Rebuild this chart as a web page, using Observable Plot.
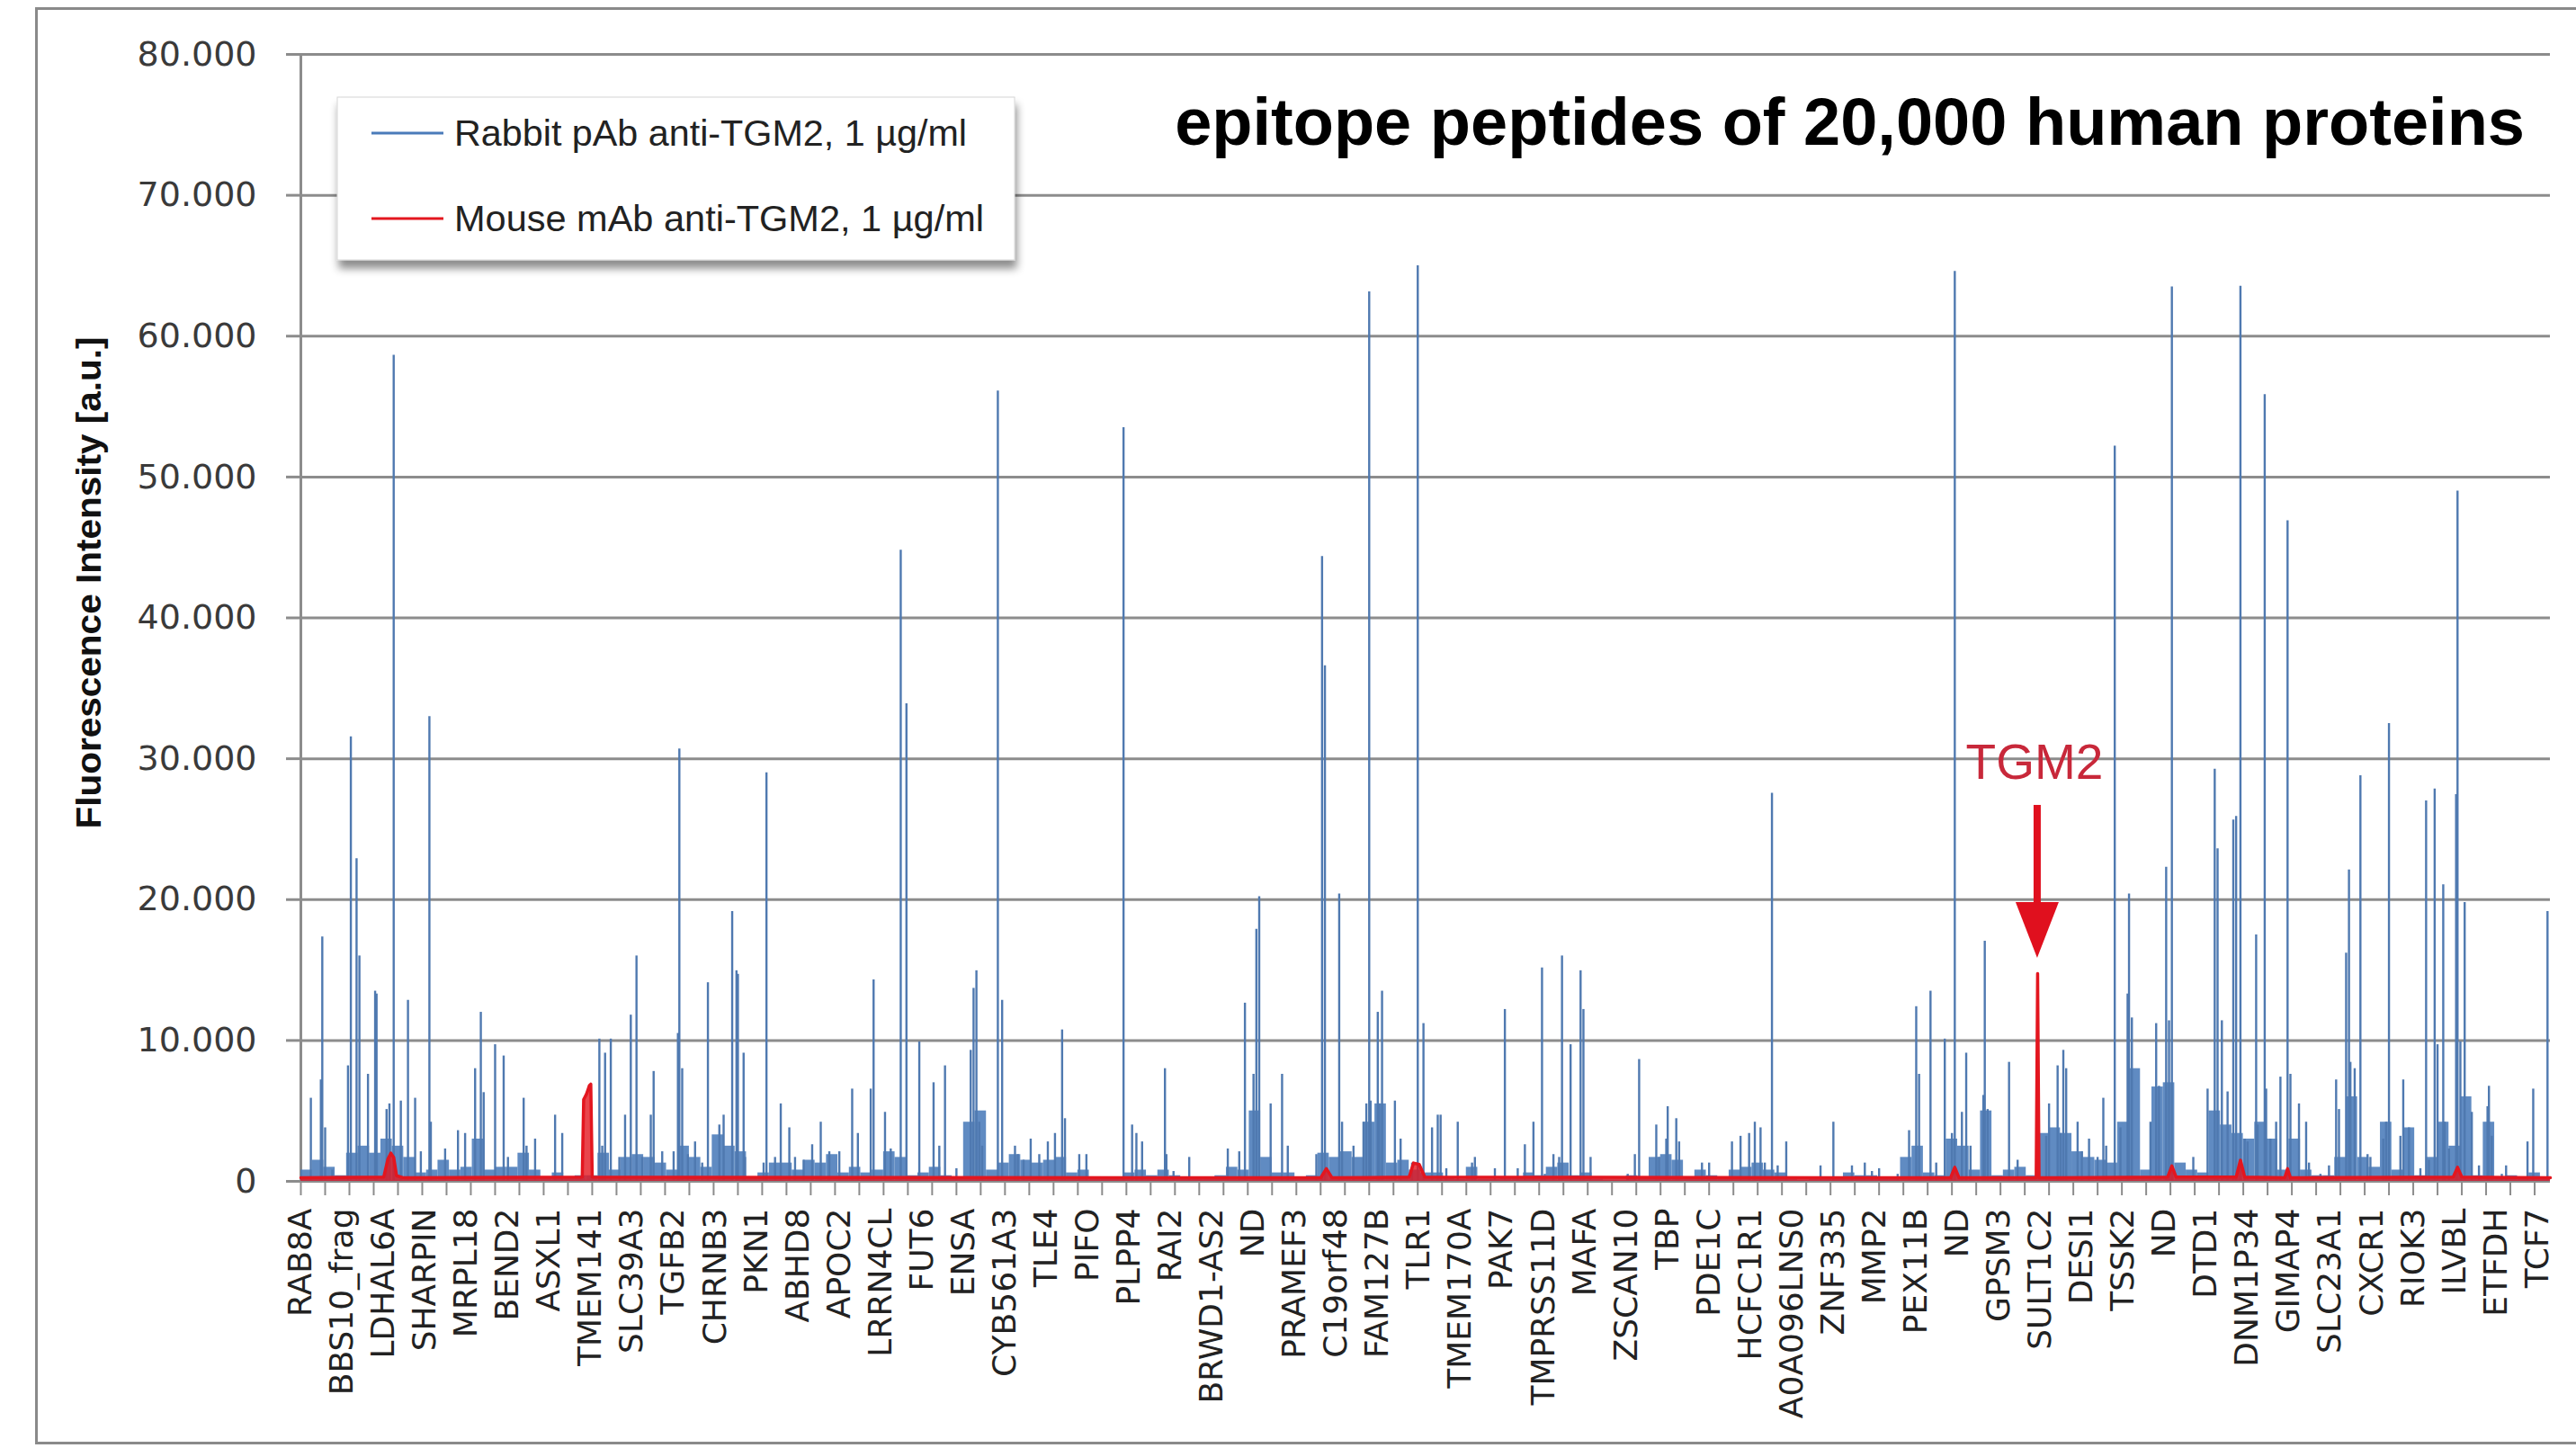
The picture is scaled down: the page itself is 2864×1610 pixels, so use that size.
<!DOCTYPE html>
<html><head><meta charset="utf-8">
<script src="https://cdn.jsdelivr.net/npm/d3@7"></script>
<script src="https://cdn.jsdelivr.net/npm/@observablehq/plot@0.6"></script>
<style>
html,body{margin:0;padding:0;background:#fff;}
#wrap{position:relative;width:2864px;height:1610px;overflow:hidden;background:#fff;}
#frame{position:absolute;left:39px;top:8px;width:2860px;height:1598px;border:3px solid #8a8a8a;box-sizing:border-box;}
#chart{position:absolute;left:0;top:0;}
#overlay{position:absolute;left:0;top:0;}
</style></head>
<body><div id="wrap"><div id="frame"></div><div id="chart"></div></div>
<script>
// ---------- data ----------
const titleText = "epitope peptides of 20,000 human proteins";
const yTitle = "Fluorescence Intensity [a.u.]";
const seriesNames = ["Rabbit pAb anti-TGM2, 1 µg/ml", "Mouse mAb anti-TGM2, 1 µg/ml"];
const xLabels = ["RAB8A","BBS10_frag","LDHAL6A","SHARPIN","MRPL18","BEND2","ASXL1","TMEM141","SLC39A3","TGFB2","CHRNB3","PKN1","ABHD8","APOC2","LRRN4CL","FUT6","ENSA","CYB561A3","TLE4","PIFO","PLPP4","RAI2","BRWD1-AS2","ND","PRAMEF3","C19orf48","FAM127B","TLR1","TMEM170A","PAK7","TMPRSS11D","MAFA","ZSCAN10","TBP","PDE1C","HCFC1R1","A0A096LNS0","ZNF335","MMP2","PEX11B","ND","GPSM3","SULT1C2","DESI1","TSSK2","ND","DTD1","DNM1P34","GIMAP4","SLC23A1","CXCR1","RIOK3","ILVBL","ETFDH","TCF7"];
const nPeptides = 1575;      // peptide positions on the category axis
const labelEvery = 29;       // one label every 29 peptides
const tickEvery = 17;        // one tick mark every 17 peptides
const yTicks = [0,10000,20000,30000,40000,50000,60000,70000,80000];

// Rabbit pAb: [peptide index, intensity] of the visible spikes
const rabbitPeaks = [[7,5900],[14,7200],[15,17350],[17,3800],[22,800],[33,8200],[35,31550],[39,22900],[41,16000],[47,7600],[52,13500],[53,13300],[60,5100],[62,5500],[65,58650],[70,5700],[75,12850],[80,5900],[84,2100],[90,33000],[91,4200],[101,2300],[110,3600],[115,3400],[122,8000],[126,12000],[128,6300],[136,9700],[142,8900],[145,1700],[156,5900],[158,2500],[164,3000],[178,4700],[183,3400],[209,10100],[211,2500],[213,9100],[217,10100],[223,1700],[227,4700],[231,11800],[235,16000],[239,1700],[245,4700],[247,7800],[253,2100],[261,2100],[264,10500],[265,30700],[267,8000],
[271,1900],[276,2800],[281,1300],[285,14100],[293,4000],[296,4700],[302,19150],[305,14950],[306,14700],[310,9100],[311,1700],[324,1300],[326,29000],[332,1700],[336,5500],[342,3800],[346,1700],[352,1500],[358,2600],[364,4200],[370,2100],[377,2100],[386,6550],[390,3400],[399,6550],[401,14300],[409,4900],[413,2300],[420,44800],[424,33900],[433,9900],[443,7000],[447,2500],[451,8200],[459,900],[469,9300],[471,13700],[473,14950],[475,4200],[477,2500],[488,56100],[491,12850],[500,2500],[502,1900],[506,1500],[511,3000],[517,1900],[523,2800],[528,3400],[533,10750],
[535,4450],[545,1900],[550,1900],[576,53500],[582,4000],[585,3400],[589,2800],[605,8000],[606,1900],[611,700],[622,1700],[649,2300],[657,2100],[661,12650],[667,7600],[669,17900],[671,20200],[679,5500],[687,7600],[691,2500],[711,1900],[715,44350],[717,36600],[727,20400],[729,4200],[737,2500],[744,4200],[746,5500],[748,63150],[749,5700],[754,12000],[755,5500],[757,13500],[766,5700],[770,3000],[778,1300],[782,65000],[786,11200],[792,3800],[796,4700],
[798,4700],[802,900],[810,4200],[820,1300],[822,1700],[836,900],[843,12200],[852,900],[857,2600],[863,4200],[869,15150],[871,500],[877,1900],[881,1700],[883,16000],[889,9700],[896,14950],[898,12200],[903,1700],[929,500],[934,1900],[937,8650],[949,4000],[951,1700],[956,3000],[957,5300],[963,4450],[965,2800],[981,1300],[986,1300],[1002,2800],[1008,3200],[1014,3400],[1018,4200],[1022,3800],[1025,1300],[1030,27550],[1034,1100],[1040,2800],
[1064,1100],[1073,4200],[1086,1100],[1095,1300],[1100,700],[1105,900],[1118,500],[1126,3600],[1131,12400],[1133,7600],[1141,13500],[1145,1300],[1151,10100],[1156,3400],[1158,64600],[1163,4900],[1166,9100],[1169,2500],[1178,6100],[1179,17050],[1181,5100],[1196,8450],[1202,1500],[1222,3200],[1224,5500],[1230,8200],[1232,3400],[1234,9300],[1236,8000],[1244,4200],[1247,2100],[1252,3000],[1258,1700],[1262,5900],[1264,2500],[1270,52200],[1274,3800],[1279,13300],[1280,20400],[1282,11600],[1295,4200],[1299,11200],[1301,6750],[1306,22300],[1308,11400],[1310,63500],[1325,1700],
[1335,6550],[1340,29250],[1342,23600],[1345,11400],[1349,6350],[1353,25650],[1355,25900],[1358,63550],[1361,3000],[1363,2800],[1369,17500],[1370,4000],[1375,55850],[1376,6550],[1379,3000],[1383,4200],[1386,7400],[1391,46900],[1393,7600],[1399,5500],[1404,4200],[1406,1300],[1414,500],[1420,1100],[1425,7200],[1427,5100],[1432,16200],[1434,22100],[1435,8450],[1438,8000],[1442,28800],[1447,1900],[1449,1700],[1458,3000],[1460,4200],[1462,32500],[1470,3200],[1472,7200],[1476,3800],[1484,900],[1488,27000],[1490,1500],[1494,27850],[1496,9700],[1500,21050],[1501,4200],[1504,2300],[1509,27450],[1510,49000],[1512,9900],[1515,19800],[1520,4900],[1525,1100],[1531,5300],[1532,6750],[1534,3200],[1541,500],[1544,1100],[1559,2800],[1563,6550],[1573,19150]];

// Rabbit pAb: dense low-level signal, one level per block of 8 peptides
const rabbitBlock = 8;
const rabbitLow = [800,1500,1000,400,2000,2500,2000,3000,2500,1700,600,800,1500,800,1000,3000,800,1000,1000,2000,
800,250,600,250,400,400,2000,800,1700,1900,1700,1300,800,2500,1700,1000,3300,2500,2100,250,
600,1300,1300,800,1500,1300,1900,600,1000,600,800,2100,1700,400,600,1000,400,250,4200,5000,
800,1300,1900,1500,1300,1500,1700,600,800,250,150,250,600,800,400,800,400,250,150,150,
400,1000,800,5000,1700,600,600,250,400,2000,1700,2100,1700,4200,5500,1300,1500,800,600,600,
250,150,1000,150,150,250,250,600,400,1000,1300,400,600,150,100,100,400,250,1700,1900,
1500,150,800,400,150,800,1000,1300,800,600,250,100,150,250,250,600,400,400,250,250,
1700,2500,600,400,3000,2500,800,5000,400,800,1000,400,3400,3800,3400,2100,1700,1500,1300,4200,
8000,800,6700,7000,1300,800,600,5000,4000,3400,3000,4200,3000,800,3000,800,400,400,1700,6000,
1700,1000,4200,800,3800,400,1700,4200,2500,6000,400,4200,250,400,250,600,250];

// Mouse mAb: [peptide index, intensity]
const mousePoints = [[0,250],[58,300],[61,1600],[63,2000],[65,1700],[67,400],[72,250],[197,300],[198,5800],[199,6000],[200,6200],[201,6500],[202,6800],[203,6900],[204,300],[714,250],[718,900],[722,250],[776,300],[779,1300],[783,1200],[787,300],[1155,250],[1158,1000],[1161,250],[1215,250],[1216,14750],[1217,250],[1307,300],[1310,1100],[1313,300],[1355,300],[1358,1500],[1361,300],[1389,250],[1391,900],[1393,250],[1507,300],[1510,1000],[1513,300],[1575,250]];
const highlight = {name: "TGM2", idx: 1216, value: 14750};

(function () {
// ---------- styles ----------
const BLUE = "#4a7bba", BLUE_SPIKE = "#4f79b0", RED = "#e3161f", GRID = "#8c8c8c";
const fmt = d3.formatLocale({decimal: ",", thousands: ".", grouping: [3], currency: ["", ""]}).format(",");

const peaks = rabbitPeaks.map(([idx, val]) => ({idx, val}));
const low = rabbitLow.map((v, i) => ({x1: i * rabbitBlock, x2: Math.min((i + 1) * rabbitBlock, nPeptides), v}));
const mouse = mousePoints.map(([idx, val]) => ({idx, val}));
const labelData = xLabels.map((name, i) => ({name, idx: i * labelEvery}));
const xTicks = d3.range(0, nPeptides + 1, tickEvery);

const chart = Plot.plot({
  width: 2864, height: 1610,
  marginLeft: 334, marginRight: 29, marginTop: 60, marginBottom: 297,
  x: {domain: [0, nPeptides]},
  y: {domain: [0, 80000]},
  style: {background: "transparent", fontFamily: "DejaVu Sans, Verdana, sans-serif"},
  marks: [
    Plot.ruleY(yTicks, {stroke: GRID, strokeWidth: 3}),
    Plot.ruleX([0], {stroke: GRID, strokeWidth: 3}),
    Plot.rect(low, {x1: "x1", x2: "x2", y1: 0, y2: "v", fill: BLUE, fillOpacity: 0.88}),
    Plot.ruleX(peaks, {x: "idx", y1: 0, y2: "val", stroke: BLUE_SPIKE, strokeWidth: 2.4}),
    Plot.areaY(mouse, {x: "idx", y: "val", fill: RED, fillOpacity: 0.8}),
    Plot.lineY(mouse, {x: "idx", y: "val", stroke: RED, strokeWidth: 3.5}),
    Plot.axisY({ticks: yTicks, tickSize: 16, tickPadding: 33, tickFormat: fmt, fontSize: 38, fill: "#3a3a3a", stroke: GRID, strokeWidth: 3, label: null}),
    Plot.axisX({ticks: xTicks, tickSize: 16, tickFormat: () => "", stroke: GRID, strokeWidth: 2, label: null}),
    Plot.text(labelData, {x: "idx", text: "name", frameAnchor: "bottom", dy: 30, rotate: -90, textAnchor: "end", lineAnchor: "middle", fontSize: 36, fill: "#222"})
  ]
});
document.getElementById("chart").appendChild(chart);

// ---------- overlay: title, legend, y title, TGM2 annotation ----------
const sx = chart.scale("x"), sy = chart.scale("y");
const ov = d3.select("#wrap").append("svg").attr("id", "overlay").attr("width", 2864).attr("height", 1610);
const defs = ov.append("defs");
const f = defs.append("filter").attr("id", "sh").attr("x", "-5%").attr("y", "-10%").attr("width", "115%").attr("height", "140%");
f.append("feDropShadow").attr("dx", 2).attr("dy", 9).attr("stdDeviation", 5).attr("flood-color", "#000").attr("flood-opacity", 0.45);

ov.append("text").attr("x", 2807).attr("y", 161).attr("text-anchor", "end")
  .attr("font-family", "Liberation Sans, Arial, sans-serif").attr("font-weight", "bold").attr("font-size", 74)
  .attr("fill", "#000").text(titleText);

ov.append("rect").attr("x", 375).attr("y", 108).attr("width", 753).attr("height", 181)
  .attr("fill", "#fff").attr("stroke", "#d6d6d6").attr("stroke-width", 1).attr("filter", "url(#sh)");
[[BLUE, 148], [RED, 243]].forEach(([c, y], i) => {
  ov.append("line").attr("x1", 413).attr("x2", 493).attr("y1", y).attr("y2", y).attr("stroke", c).attr("stroke-width", 3);
  ov.append("text").attr("x", 505).attr("y", y + 14)
    .attr("font-family", "Liberation Sans, Arial, sans-serif").attr("font-size", 40).attr("fill", "#222")
    .attr("textLength", i === 0 ? 570 : 589).attr("lengthAdjust", "spacingAndGlyphs").text(seriesNames[i]);
});

ov.append("text").attr("transform", "translate(112,648) rotate(-90)").attr("text-anchor", "middle")
  .attr("font-family", "Liberation Sans, Arial, sans-serif").attr("font-weight", "bold").attr("font-size", 39)
  .attr("fill", "#111").attr("textLength", 547).attr("lengthAdjust", "spacingAndGlyphs").text(yTitle);

const px = sx.apply(highlight.idx), tipY = sy.apply(highlight.value);
ov.append("text").attr("x", px - 3).attr("y", tipY - 216).attr("text-anchor", "middle")
  .attr("font-family", "Liberation Sans, Arial, sans-serif").attr("font-size", 55).attr("fill", "#c8283a").text(highlight.name);
ov.append("rect").attr("x", px - 4).attr("y", tipY - 187).attr("width", 8).attr("height", 110).attr("fill", "#e0101e");
ov.append("polygon").attr("points", `${px-24},${tipY-79} ${px+24},${tipY-79} ${px},${tipY-17}`).attr("fill", "#e0101e");
})();
</script>
</body></html>
